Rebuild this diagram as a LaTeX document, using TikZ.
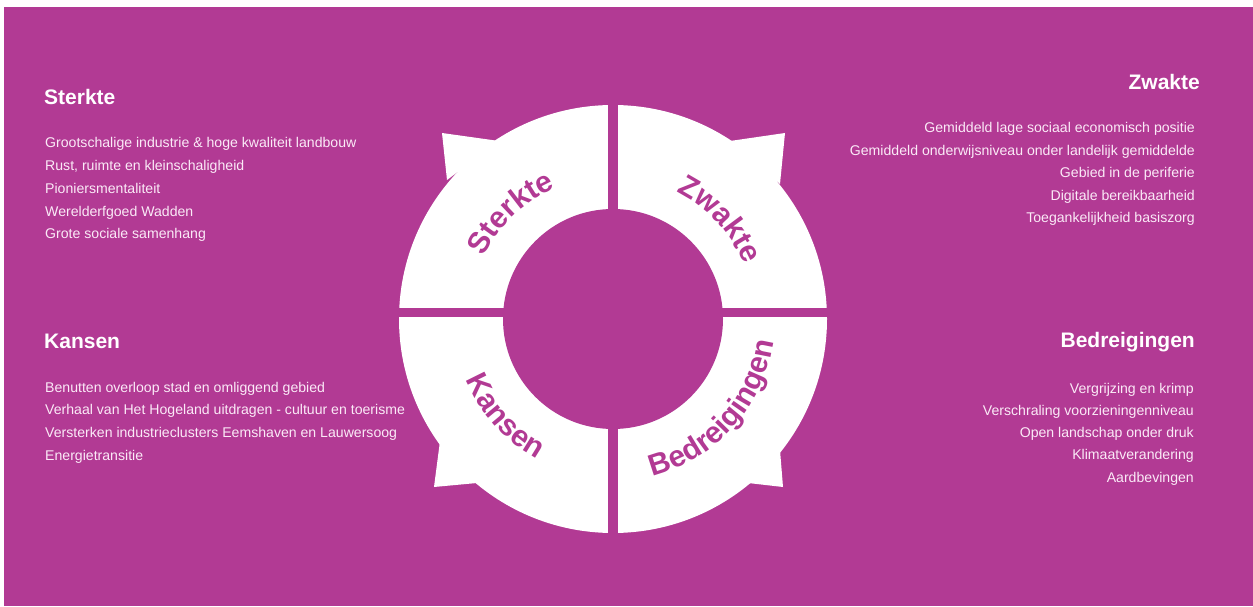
\documentclass[tikz,border=0pt]{standalone}
\usepackage{fontspec}
\setmainfont{Liberation Sans}
\usetikzlibrary{decorations.text}
\definecolor{swotbg}{HTML}{B23A94}
\definecolor{bodytxt}{HTML}{FBEAF7}
\begin{document}
\begin{tikzpicture}[x=1pt,y=1pt,
  heading/.style={text=white, font=\fontsize{21}{25}\selectfont\bfseries, inner sep=0pt},
  item/.style={text=bodytxt, font=\fontsize{14.1}{16}\selectfont, inner sep=0pt},
  ringlabel/.style={decorate, decoration={text along path, text align=center, text color=swotbg,
      text={|\fontsize{30}{30}\selectfont\bfseries|#1}}}]
\useasboundingbox (0,0) rectangle (1253,606);
\fill[white] (0,0) rectangle (1253,606);
\fill[swotbg] (4,0) rectangle (1253,599);

% ring centre
\coordinate (C) at (613,287);

% white ring with four arrow tips
\fill[white] (C) circle[radius=214];
\fill[white] (442,473) -- (499,465) -- (447,426) -- cycle;
\fill[white] (785,473) -- (730,465) -- (780,422) -- cycle;
\fill[white] (434,119) -- (440,165) -- (477,123) -- cycle;
\fill[white] (783,119) -- (780,156) -- (748,123) -- cycle;

% hollow centre and the cuts between the quadrants
\fill[swotbg] (C) circle[radius=110];
\fill[swotbg] (608,60) rectangle (618,515);
\fill[swotbg] (392,289) rectangle (834,298);

% quadrant labels along the ring
\path[ringlabel=Sterkte] ([shift={(184:143)}]C) arc[start angle=184, end angle=84, radius=143];
\path[ringlabel=Zwakte] ([shift={(93:142)}]C) arc[start angle=93, end angle=-7, radius=142];
\path[ringlabel=Kansen] ([shift={(172:159)}]C) arc[start angle=172, end angle=272, radius=159];
\path[ringlabel=Bedreigingen] ([shift={(263:162)}]C) arc[start angle=263, end angle=373, radius=162];

% Sterkte
\node[heading, anchor=base west] (sH) at (44,501) {Sterkte};
\foreach \t [count=\i] in {Grootschalige industrie \& hoge kwaliteit landbouw,
    {Rust, ruimte en kleinschaligheid}, Pioniersmentaliteit, Werelderfgoed Wadden,
    Grote sociale samenhang}
  \node[item, anchor=base west] (s\i) at (45,{458-22.7*(\i-1)}) {\t};

% Zwakte
\node[heading, anchor=base east] (zH) at (1200,516) {Zwakte};
\foreach \t [count=\i] in {Gemiddeld lage sociaal economisch positie,
    Gemiddeld onderwijsniveau onder landelijk gemiddelde, Gebied in de periferie,
    Digitale bereikbaarheid, Toegankelijkheid basiszorg}
  \node[item, anchor=base east] (z\i) at (1195,{473-22.5*(\i-1)}) {\t};

% Kansen
\node[heading, anchor=base west] (kH) at (44,258) {Kansen};
\foreach \t [count=\i] in {Benutten overloop stad en omliggend gebied,
    Verhaal van Het Hogeland uitdragen - cultuur en toerisme,
    Versterken industrieclusters Eemshaven en Lauwersoog, Energietransitie}
  \node[item, anchor=base west] (k\i) at (45,{214-22.7*(\i-1)}) {\t};

% Bedreigingen
\node[heading, anchor=base east] (bH) at (1195,259) {Bedreigingen};
\foreach \t [count=\i] in {Vergrijzing en krimp, Verschraling voorzieningenniveau,
    Open landschap onder druk, Klimaatverandering, Aardbevingen}
  \node[item, anchor=base east] (b\i) at (1194,{213-22.3*(\i-1)}) {\t};
\end{tikzpicture}
\end{document}
